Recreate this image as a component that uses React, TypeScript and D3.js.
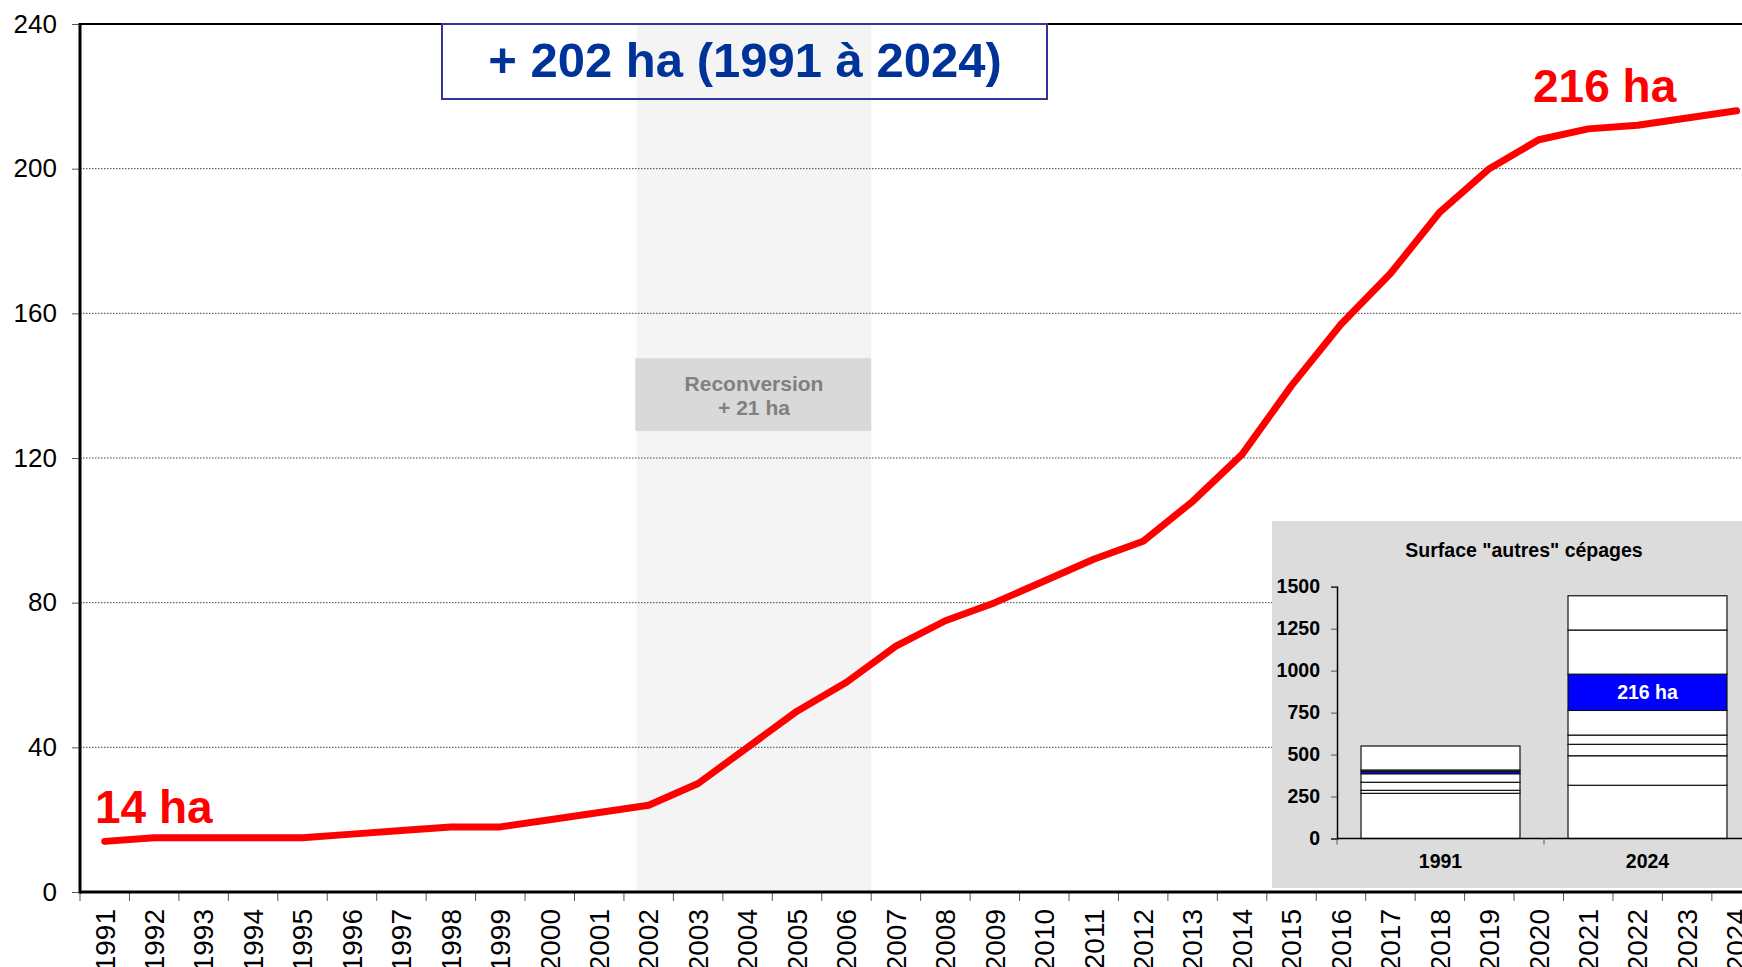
import React, { useRef, useEffect } from "react";
import * as d3 from "d3";

// surface plantée (ha), 1991 -> 2024
const years = [
  "1991", "1992", "1993", "1994", "1995", "1996", "1997", "1998", "1999", "2000",
  "2001", "2002", "2003", "2004", "2005", "2006", "2007", "2008", "2009", "2010",
  "2011", "2012", "2013", "2014", "2015", "2016", "2017", "2018", "2019", "2020",
  "2021", "2022", "2023", "2024",
];
const surface = [
  14, 15, 15, 15, 15, 16, 17, 18, 18, 20,
  22, 24, 30, 40, 50, 58, 68, 75, 80, 86,
  92, 97, 108, 121, 140, 157, 171, 188, 200, 208,
  211, 212, 214, 216,
];
const yTicks = [0, 40, 80, 120, 160, 200, 240];
const reconversionStart = "2002";
const reconversionEnd = "2006";

// encart : surface "autres" cépages, empilée
const insetYears = ["1991", "2024"];
const insetKeys = ["c1", "c2", "c3", "c4", "c5", "c6", "c7", "c8"];
const insetSegments1991 = [269, 18, 48, 0, 51, 14, 8, 143];
const insetSegments2024 = [317, 176, 68, 55, 147, 216, 263, 204];
const insetHighlight = "c6";
const insetTicks = [0, 250, 500, 750, 1000, 1250, 1500];

const FONT = "'Liberation Sans', Arial, sans-serif";

const Chart = () => {
  const ref = useRef(null);

  useEffect(() => {
    if (!ref.current) return;
    const W = 1742;
    const H = 967;
    d3.select(ref.current).select("svg").remove();

    const svg = d3
      .select(ref.current)
      .append("svg")
      .attr("width", W)
      .attr("height", H)
      .style("position", "absolute")
      .style("left", 0)
      .style("top", 0)
      .style("font-family", FONT);

    const step = 49.45;
    const x = d3
      .scaleBand()
      .domain(years)
      .range([80, 80 + step * years.length])
      .padding(0);
    const y = d3.scaleLinear().domain([0, 240]).range([892, 24]);
    const bw = x.bandwidth();

    // zone reconversion
    const sx0 = x(reconversionStart) + bw * 0.26;
    const sx1 = x(reconversionEnd) + bw;
    svg
      .append("rect")
      .attr("x", sx0)
      .attr("y", y(240))
      .attr("width", sx1 - sx0)
      .attr("height", y(0) - y(240))
      .attr("fill", "#f4f4f4");
    svg
      .append("rect")
      .attr("x", sx0 - 1.5)
      .attr("y", y(147.6))
      .attr("width", sx1 - sx0 + 1.5)
      .attr("height", y(127.5) - y(147.6))
      .attr("fill", "#d9d9d9");
    const rc = (sx0 + sx1) / 2;
    svg
      .append("text")
      .attr("x", rc)
      .attr("y", 391)
      .attr("text-anchor", "middle")
      .attr("font-size", 21)
      .attr("font-weight", "bold")
      .attr("fill", "#808080")
      .text("Reconversion");
    svg
      .append("text")
      .attr("x", rc)
      .attr("y", 415)
      .attr("text-anchor", "middle")
      .attr("font-size", 21)
      .attr("font-weight", "bold")
      .attr("fill", "#808080")
      .text("+ 21 ha");

    // grille
    yTicks
      .filter((t) => t > 0 && t < 240)
      .forEach((t) => {
        svg
          .append("line")
          .attr("x1", 80)
          .attr("x2", W)
          .attr("y1", y(t))
          .attr("y2", y(t))
          .attr("stroke", "#444")
          .attr("stroke-width", 1)
          .attr("stroke-dasharray", "1.5,1.5");
      });

    // bordure haute
    svg
      .append("line")
      .attr("x1", 80)
      .attr("x2", W)
      .attr("y1", y(240))
      .attr("y2", y(240))
      .attr("stroke", "#000")
      .attr("stroke-width", 2);

    // axe Y
    const yAxis = svg
      .append("g")
      .attr("transform", "translate(80,0)")
      .call(d3.axisLeft(y).tickValues(yTicks).tickSize(8).tickPadding(15));
    yAxis.select(".domain").remove();
    yAxis.selectAll(".tick line").attr("stroke", "#555");
    yAxis
      .selectAll(".tick text")
      .attr("font-size", 26)
      .attr("font-family", FONT)
      .attr("fill", "#000");

    // axe X : graduations entre les années
    years.concat(["end"]).forEach((yr, i) => {
      const tx = i < years.length ? x(yr) : x(years[years.length - 1]) + bw;
      svg
        .append("line")
        .attr("x1", tx)
        .attr("x2", tx)
        .attr("y1", y(0))
        .attr("y2", y(0) + 9)
        .attr("stroke", "#555")
        .attr("stroke-width", 1);
    });
    years.forEach((yr) => {
      svg
        .append("text")
        .attr("transform", `translate(${x(yr) + bw / 2},909) rotate(-90)`)
        .attr("text-anchor", "end")
        .attr("dy", "0.35em")
        .attr("font-size", 28)
        .attr("fill", "#000")
        .text(yr);
    });

    svg
      .append("line")
      .attr("x1", 80)
      .attr("x2", 80)
      .attr("y1", y(240) - 1)
      .attr("y2", y(0) + 1.5)
      .attr("stroke", "#000")
      .attr("stroke-width", 3);
    svg
      .append("line")
      .attr("x1", 80)
      .attr("x2", W)
      .attr("y1", y(0))
      .attr("y2", y(0))
      .attr("stroke", "#000")
      .attr("stroke-width", 3);

    // cadre titre
    svg
      .append("rect")
      .attr("x", 442)
      .attr("y", 24)
      .attr("width", 605)
      .attr("height", 75)
      .attr("fill", "none")
      .attr("stroke", "#333399")
      .attr("stroke-width", 2);
    svg
      .append("text")
      .attr("x", 745)
      .attr("y", 77)
      .attr("text-anchor", "middle")
      .attr("font-size", 49)
      .attr("font-weight", "bold")
      .attr("fill", "#003399")
      .text("+ 202 ha (1991 à 2024)");

    // courbe
    const line = d3
      .line()
      .x((d) => x(d[0]) + bw / 2)
      .y((d) => y(d[1]));
    svg
      .append("path")
      .datum(years.map((yr, i) => [yr, surface[i]]))
      .attr("fill", "none")
      .attr("stroke", "#ff0000")
      .attr("stroke-width", 7)
      .attr("stroke-linejoin", "round")
      .attr("stroke-linecap", "round")
      .attr("d", line);

    svg
      .append("text")
      .attr("x", 95)
      .attr("y", 823)
      .attr("font-size", 46)
      .attr("font-weight", "bold")
      .attr("fill", "#ff0000")
      .text(`${surface[0]} ha`);
    svg
      .append("text")
      .attr("x", 1533)
      .attr("y", 102)
      .attr("font-size", 46)
      .attr("font-weight", "bold")
      .attr("fill", "#ff0000")
      .text(`${surface[surface.length - 1]} ha`);

    // encart
    const inset = svg.append("g");
    inset
      .append("rect")
      .attr("x", 1272)
      .attr("y", 521)
      .attr("width", W - 1272)
      .attr("height", 367)
      .attr("fill", "#dcdcdc");
    inset
      .append("text")
      .attr("x", 1524)
      .attr("y", 557)
      .attr("text-anchor", "middle")
      .attr("font-size", 19.5)
      .attr("font-weight", "bold")
      .attr("fill", "#000")
      .text('Surface "autres" cépages');

    const ix = d3
      .scaleBand()
      .domain(insetYears)
      .range([1337, 1337 + 414])
      .paddingInner(0.232)
      .paddingOuter(0.116);
    const iy = d3.scaleLinear().domain([0, 1500]).range([838.5, 586.7]);

    const rows = [insetSegments1991, insetSegments2024].map((vals, i) => {
      const r = { year: insetYears[i] };
      insetKeys.forEach((k, j) => (r[k] = vals[j]));
      return r;
    });
    const stacked = d3.stack().keys(insetKeys)(rows);
    stacked.forEach((layer) => {
      inset
        .selectAll(null)
        .data(layer)
        .enter()
        .append("rect")
        .attr("x", (d) => ix(d.data.year))
        .attr("width", ix.bandwidth())
        .attr("y", (d) => iy(d[1]))
        .attr("height", (d) => iy(d[0]) - iy(d[1]))
        .attr("fill", layer.key === insetHighlight ? "#0000ff" : "#ffffff")
        .attr("stroke", "#111")
        .attr("stroke-width", 1.2);
    });
    const hl = stacked.find((l) => l.key === insetHighlight)[1];
    inset
      .append("text")
      .attr("x", ix("2024") + ix.bandwidth() / 2)
      .attr("y", (iy(hl[0]) + iy(hl[1])) / 2)
      .attr("dy", "0.36em")
      .attr("text-anchor", "middle")
      .attr("font-size", 19.5)
      .attr("font-weight", "bold")
      .attr("fill", "#ffffff")
      .text(`${insetSegments2024[5]} ha`);

    const iyAxis = inset
      .append("g")
      .attr("transform", "translate(1337,0)")
      .call(
        d3
          .axisLeft(iy)
          .tickValues(insetTicks)
          .tickFormat(d3.format("d"))
          .tickSize(6)
          .tickPadding(11)
      );
    iyAxis.select(".domain").attr("stroke", "#000").attr("stroke-width", 1.5);
    iyAxis.selectAll(".tick line").attr("stroke", "#555");
    iyAxis
      .selectAll(".tick text")
      .attr("font-size", 19.5)
      .attr("font-weight", "bold")
      .attr("font-family", FONT)
      .attr("fill", "#000");

    inset
      .append("line")
      .attr("x1", 1337)
      .attr("x2", W)
      .attr("y1", iy(0))
      .attr("y2", iy(0))
      .attr("stroke", "#000")
      .attr("stroke-width", 1.5);
    [1337, 1337 + ix.step()].forEach((tx) => {
      inset
        .append("line")
        .attr("x1", tx)
        .attr("x2", tx)
        .attr("y1", iy(0))
        .attr("y2", iy(0) + 6)
        .attr("stroke", "#555");
    });
    insetYears.forEach((yr) => {
      inset
        .append("text")
        .attr("x", ix(yr) + ix.bandwidth() / 2)
        .attr("y", 868)
        .attr("text-anchor", "middle")
        .attr("font-size", 19.5)
        .attr("font-weight", "bold")
        .attr("fill", "#000")
        .text(yr);
    });
  }, []);

  return <div ref={ref} style={{ width: 1742, height: 967 }} />;
};

export default function App() {
  return <Chart />;
}
